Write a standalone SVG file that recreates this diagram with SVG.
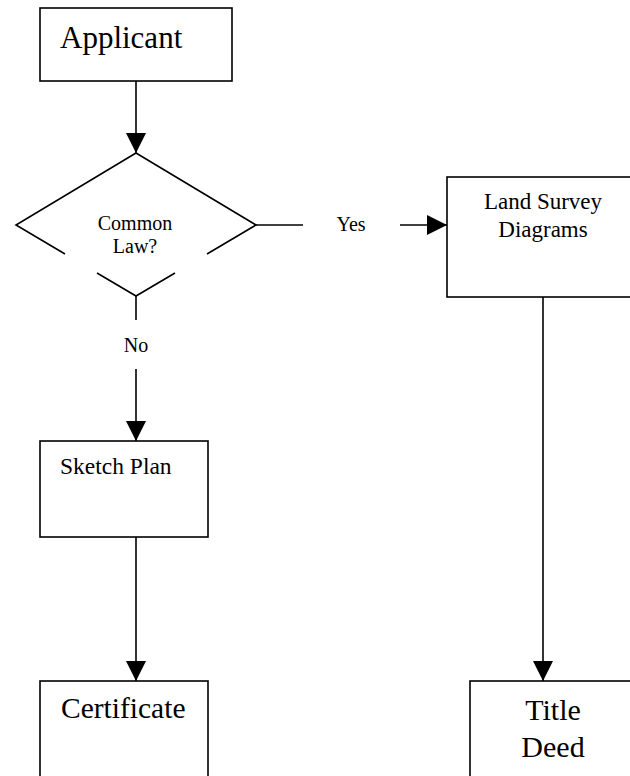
<svg xmlns="http://www.w3.org/2000/svg" width="630" height="776" viewBox="0 0 630 776">
<defs>
<marker id="arr" markerUnits="userSpaceOnUse" markerWidth="20" markerHeight="20" refX="20" refY="10" orient="auto">
<path d="M0,0 L20,10 L0,20 Z" fill="#000"/>
</marker>
<style>
.box{fill:#fff;stroke:#000;stroke-width:1.6}
.ln{fill:none;stroke:#000;stroke-width:1.6}
.t{font-family:'Liberation Serif','Times New Roman',serif;fill:#000}
</style>
</defs>
<rect width="630" height="776" fill="#fff"/>
<g id="connectors">
<line class="ln" x1="136" y1="81" x2="136" y2="153" marker-end="url(#arr)"/>
<line class="ln" x1="256" y1="225" x2="303" y2="225"/>
<line class="ln" x1="400" y1="225" x2="447" y2="225" marker-end="url(#arr)"/>
<text class="t" font-family="Liberation Serif" x="351" y="231" font-size="20" text-anchor="middle">Yes</text>
<line class="ln" x1="136" y1="296" x2="136" y2="320"/>
<text class="t" font-family="Liberation Serif" x="136" y="352" font-size="20" text-anchor="middle">No</text>
<line class="ln" x1="136" y1="369" x2="136" y2="441" marker-end="url(#arr)"/>
<line class="ln" x1="136" y1="537" x2="136" y2="681" marker-end="url(#arr)"/>
<line class="ln" x1="543" y1="297" x2="543" y2="681" marker-end="url(#arr)"/>
</g>
<g id="applicant">
<rect class="box" x="40" y="8" width="192" height="73"/>
<text class="t" font-family="Liberation Serif" x="60" y="48" font-size="31">Applicant</text>
</g>
<g id="common-law">
<path class="ln" d="M65,254 L16,225 L136,153 L256,225 L207,254 M97,273 L136,296 L175,273"/>
<text class="t" font-family="Liberation Serif" x="135" y="230" font-size="20" text-anchor="middle">Common</text>
<text class="t" font-family="Liberation Serif" x="135" y="253" font-size="20" text-anchor="middle">Law?</text>
</g>
<g id="land-survey">
<rect class="box" x="447" y="177" width="200" height="120"/>
<text class="t" font-family="Liberation Serif" x="543" y="209" font-size="23" text-anchor="middle">Land Survey</text>
<text class="t" font-family="Liberation Serif" x="543" y="237" font-size="23" text-anchor="middle">Diagrams</text>
</g>
<g id="sketch-plan">
<rect class="box" x="40" y="441" width="168" height="96"/>
<text class="t" font-family="Liberation Serif" x="60" y="474" font-size="23.5">Sketch Plan</text>
</g>
<g id="certificate">
<rect class="box" x="40" y="681" width="168" height="120"/>
<text class="t" font-family="Liberation Serif" x="61" y="718" font-size="29.5">Certificate</text>
</g>
<g id="title-deed">
<rect class="box" x="470" y="681" width="200" height="120"/>
<text class="t" font-family="Liberation Serif" x="553" y="720" font-size="30" text-anchor="middle">Title</text>
<text class="t" font-family="Liberation Serif" x="553" y="757" font-size="30" text-anchor="middle">Deed</text>
</g>
</svg>
